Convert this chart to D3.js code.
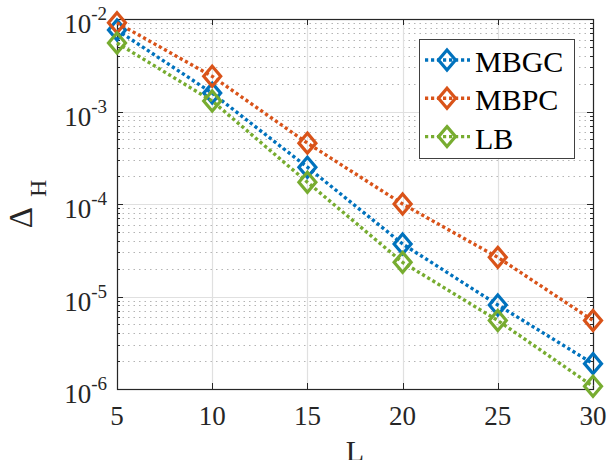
<!DOCTYPE html>
<html><head><meta charset="utf-8">
<script src="https://cdn.jsdelivr.net/npm/d3@7"></script>
<style>body{margin:0;background:#fff}svg{display:block}</style>
</head><body>
<script>
const L = [5, 10, 15, 20, 25, 30];
const seriesNames = ["MBGC", "MBPC", "LB"];
const MBGC = [7.6e-3, 1.58e-3, 2.5e-4, 3.7e-5, 8.1e-6, 1.88e-6];
const MBPC = [9.1e-3, 2.4e-3, 4.55e-4, 1.0e-4, 2.65e-5, 5.5e-6];
const LB = [5.5e-3, 1.3e-3, 1.72e-4, 2.34e-5, 5.5e-6, 1.07e-6];
const colors = ["#0072BD", "#D95319", "#77AC30"];
const xTicks = [5, 10, 15, 20, 25, 30];
const yTickExp = [-2, -3, -4, -5, -6];

const W = 610, H = 460;
const m = {l: 117, r: 593, t: 19, b: 389};
const svg = d3.select("body").append("svg").attr("width", W).attr("height", H)
  .style("font-family", "'Liberation Serif', 'Times New Roman', serif");

const x = d3.scaleLinear().domain([5, 30]).range([m.l, m.r]);
const y = d3.scaleLog().domain([1e-6, 1e-2]).range([m.b, m.t]);

// minor grid
const minorVals = [];
for (let e = -6; e < -2; e++) for (let k = 2; k <= 9; k++) minorVals.push(k * Math.pow(10, e));
svg.append("g").selectAll("line").data(minorVals).join("line")
  .attr("x1", m.l).attr("x2", m.r).attr("y1", d => Math.round(y(d)) + 0.5).attr("y2", d => Math.round(y(d)) + 0.5)
  .attr("stroke", "#b4b4b4").attr("stroke-width", 1).attr("stroke-dasharray", "1.5,4");
// major grid
svg.append("g").selectAll("line").data(yTickExp.map(e => Math.pow(10, e))).join("line")
  .attr("x1", m.l).attr("x2", m.r).attr("y1", d => Math.round(y(d)) + 0.5).attr("y2", d => Math.round(y(d)) + 0.5)
  .attr("stroke", "#e0e0e0").attr("stroke-width", 1.2);
svg.append("g").selectAll("line").data(xTicks).join("line")
  .attr("y1", m.t).attr("y2", m.b).attr("x1", d => Math.round(x(d)) + 0.5).attr("x2", d => Math.round(x(d)) + 0.5)
  .attr("stroke", "#e0e0e0").attr("stroke-width", 1.2);

// ticks (inward) on all four sides
const tk = svg.append("g").attr("stroke", "#262626").attr("stroke-width", 1);
xTicks.forEach(v => {
  const px = Math.round(x(v)) + 0.5;
  tk.append("line").attr("x1", px).attr("x2", px).attr("y1", m.b).attr("y2", m.b - 6);
  tk.append("line").attr("x1", px).attr("x2", px).attr("y1", m.t).attr("y2", m.t + 6);
});
yTickExp.forEach(e => {
  const py = Math.round(y(Math.pow(10, e))) + 0.5;
  tk.append("line").attr("x1", m.l).attr("x2", m.l + 6).attr("y1", py).attr("y2", py);
  tk.append("line").attr("x1", m.r).attr("x2", m.r - 6).attr("y1", py).attr("y2", py);
});
minorVals.forEach(v => {
  const py = Math.round(y(v)) + 0.5;
  tk.append("line").attr("x1", m.l).attr("x2", m.l + 3).attr("y1", py).attr("y2", py);
  tk.append("line").attr("x1", m.r).attr("x2", m.r - 3).attr("y1", py).attr("y2", py);
});

// box
svg.append("rect").attr("x", m.l + 0.5).attr("y", m.t + 0.5)
  .attr("width", m.r - m.l).attr("height", m.b - m.t)
  .attr("fill", "none").attr("stroke", "#262626").attr("stroke-width", 1.2);

// tick labels
svg.append("g").selectAll("text").data(xTicks).join("text")
  .attr("x", d => x(d)).attr("y", 425).attr("text-anchor", "middle")
  .attr("font-size", 27).attr("fill", "#262626").text(d => d);
const yl = svg.append("g").selectAll("text").data(yTickExp).join("text")
  .attr("x", 107).attr("y", d => y(Math.pow(10, d)) + 14).attr("text-anchor", "end")
  .attr("fill", "#262626");
yl.append("tspan").attr("font-size", 27).text("10");
yl.append("tspan").attr("font-size", 19).attr("dy", -13).text(d => "-" + Math.abs(d));

// axis labels
svg.append("text").attr("x", (m.l + m.r) / 2).attr("y", 461).attr("text-anchor", "middle")
  .attr("font-size", 30).attr("fill", "#262626").text("L");
const ylab = svg.append("text").attr("transform", `translate(32,${(m.t + m.b) / 2}) rotate(-90)`)
  .attr("text-anchor", "middle").attr("fill", "#262626");
ylab.append("tspan").attr("font-size", 33).text("Δ");
ylab.append("tspan").attr("font-size", 24).attr("dx", 10).attr("dy", 14).text("H");

// series
const data = [MBGC, MBPC, LB];
const diamond = (cx, cy) => `M${cx},${cy - 10}L${cx + 8.5},${cy}L${cx},${cy + 10}L${cx - 8.5},${cy}Z`;
const line = d3.line().x((d, i) => x(L[i])).y(d => y(d));
data.forEach((vals, si) => {
  svg.append("path").attr("d", line(vals)).attr("fill", "none")
    .attr("stroke", colors[si]).attr("stroke-width", 3.4).attr("stroke-dasharray", "3.2,2.8");
  svg.append("g").selectAll("path").data(vals).join("path")
    .attr("d", (d, i) => diamond(x(L[i]), y(d)))
    .attr("fill", "none").attr("stroke", colors[si]).attr("stroke-width", 3.2);
});

// legend
const lg = svg.append("g");
lg.append("rect").attr("x", 419.5).attr("y", 39.5).attr("width", 155).attr("height", 119)
  .attr("fill", "#fff").attr("stroke", "#404040").attr("stroke-width", 1);
seriesNames.forEach((name, i) => {
  const cy = 60 + i * 38.3;
  lg.append("line").attr("x1", 425).attr("x2", 470).attr("y1", cy).attr("y2", cy)
    .attr("stroke", colors[i]).attr("stroke-width", 3.4).attr("stroke-dasharray", "3.2,2.8");
  lg.append("path").attr("d", diamond(447, cy)).attr("fill", "none")
    .attr("stroke", colors[i]).attr("stroke-width", 3.2);
  lg.append("text").attr("x", 475).attr("y", cy + 12).attr("font-size", 30)
    .attr("fill", "#000").text(name);
});
</script>
</body></html>
